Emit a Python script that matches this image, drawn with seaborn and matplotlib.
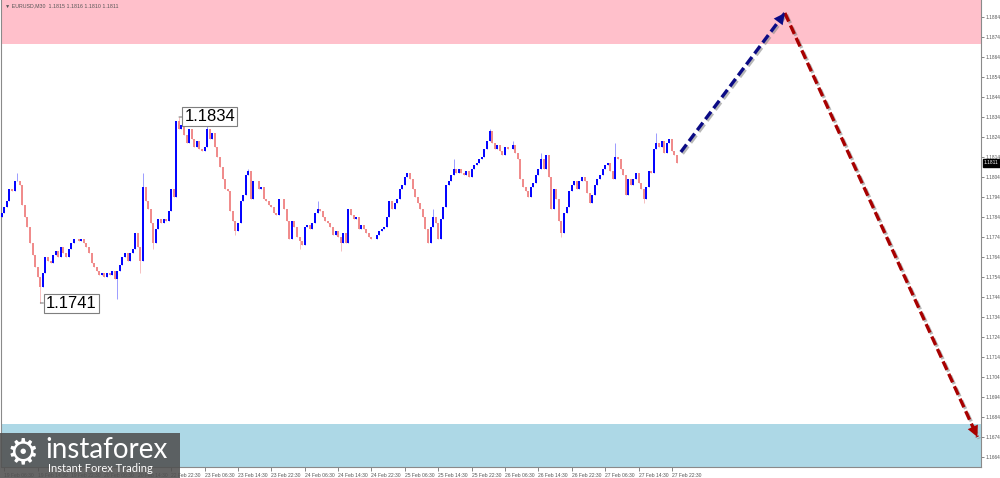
import numpy as np
import pandas as pd
import matplotlib
matplotlib.use("Agg")
import matplotlib.pyplot as plt
import seaborn as sns
from matplotlib import patheffects as pe
from matplotlib.patches import Rectangle
from matplotlib.transforms import blended_transform_factory

# EURUSD M30 closes, in pips (price * 10000)
first_open = 11784
closes_pips = [
    # 19-20 Feb
    11786, 11789, 11792, 11798, 11797, 11802, 11802, 11800, 11790, 11784, 11779, 11771, 11765, 11759, 11754, 11749,
    11756, 11764, 11762, 11761, 11765, 11767, 11764, 11769, 11766, 11764, 11768, 11771, 11773, 11773, 11772, 11773,
    11771, 11769, 11766, 11761, 11759, 11757, 11755, 11756, 11754, 11756, 11755, 11757, 11753, 11757, 11760, 11764,
    11766, 11762, 11766, 11768, 11776, 11769, 11762, 11799, 11792, 11788, 11781, 11771, 11778, 11783, 11781, 11783, 11782,
    # 22-24 Feb
    11787, 11798, 11794, 11832, 11828, 11830, 11825, 11821, 11828, 11823, 11819, 11822, 11818, 11817, 11819, 11828,
    11823, 11826, 11819, 11814, 11809, 11803, 11798, 11797, 11787, 11782, 11777, 11781, 11792, 11795, 11805, 11807,
    11793, 11802, 11802, 11798, 11799, 11793, 11792, 11790, 11789, 11786, 11785, 11793, 11793, 11788, 11782, 11773,
    11782, 11779, 11774, 11772, 11770, 11779, 11780, 11778, 11781, 11786, 11788, 11787, 11784, 11782, 11781, 11779,
    11775, 11777,
    # 24-26 Feb
    11774, 11771, 11776, 11771, 11788, 11785, 11783, 11784, 11778, 11780, 11778, 11776, 11774, 11773, 11773, 11775,
    11777, 11778, 11779, 11784, 11792, 11788, 11791, 11793, 11798, 11800, 11804, 11806, 11803, 11798, 11794, 11791,
    11788, 11784, 11778, 11771, 11779, 11784, 11781, 11773, 11783, 11789, 11800, 11802, 11805, 11808, 11806, 11808,
    11806, 11805, 11807, 11804, 11808, 11810, 11811, 11813, 11814, 11818, 11822, 11827, 11821, 11818, 11820, 11817,
    11815, 11819, 11818,
    # 26-27 Feb
    11818, 11820, 11816, 11813, 11803, 11799, 11797, 11794, 11799, 11801, 11805, 11808, 11813, 11808, 11815, 11804,
    11788, 11798, 11793, 11782, 11776, 11786, 11789, 11797, 11800, 11802, 11798, 11802, 11804, 11802, 11796, 11791,
    11795, 11800, 11803, 11805, 11808, 11810, 11811, 11807, 11803, 11814, 11813, 11808, 11805, 11795, 11803, 11800,
    11803, 11806, 11801, 11798, 11793, 11799, 11807, 11806, 11818, 11821, 11819, 11822, 11816, 11821, 11823, 11817,
    11815, 11811,
]
# longer wicks (bar -> pips)
spike_high = {6: 11806, 55: 11806, 69: 11834, 80: 11832, 96: 11808, 123: 11792, 168: 11788,
              176: 11813, 190: 11828, 199: 11822, 210: 11816, 239: 11821, 255: 11826}
spike_low = {15: 11741, 45: 11743, 54: 11756, 59: 11768, 91: 11775, 116: 11768, 132: 11767,
             218: 11774, 250: 11791}

# forecast path (bar, price)
forecast_bar = [264.5, 305.0, 380.0]
forecast_price = [1.18165, 1.18860, 1.16740]

resistance_zone = (1.18705, 1.1895)
support_zone = (1.1655, 1.16805)

time_labels = ["19 Feb 06:30", "19 Feb 14:30", "19 Feb 22:30", "20 Feb 06:30", "20 Feb 14:30",
               "22 Feb 22:30", "23 Feb 06:30", "23 Feb 14:30", "23 Feb 22:30", "24 Feb 06:30",
               "24 Feb 14:30", "24 Feb 22:30", "25 Feb 06:30", "25 Feb 14:30", "25 Feb 22:30",
               "26 Feb 06:30", "26 Feb 14:30", "26 Feb 22:30", "27 Feb 06:30", "27 Feb 14:30",
               "27 Feb 22:30"]
time_label_bars = list(range(1, 262, 13))

header = "\u25bc EURUSD,M30  1.1815 1.1816 1.1810 1.1811"

# build OHLC table
c = np.array(closes_pips) / 10000
o = np.concatenate([[first_open / 10000], c[:-1]])
df = pd.DataFrame({"bar": np.arange(len(c)), "open": o, "close": c})
df["high"] = df[["open", "close"]].max(axis=1)
df["low"] = df[["open", "close"]].min(axis=1)
for k, v in spike_high.items():
    df.loc[k, "high"] = v / 10000
for k, v in spike_low.items():
    df.loc[k, "low"] = v / 10000
df["bull"] = df["close"] >= df["open"]

sns.set_style("white")
plt.rcParams["font.family"] = ["Liberation Sans", "DejaVu Sans"]

fig = plt.figure(figsize=(10, 4.78), dpi=100)
ax = fig.add_axes([0.001, 11 / 478, 0.980, 467 / 478])

ax.axhspan(*resistance_zone, color="#ffc0cb", lw=0, zorder=0)
ax.axhspan(*support_zone, color="#add8e6", lw=0, zorder=0)

bull = df[df["bull"]]
bear = df[~df["bull"]]
ax.vlines(bull["bar"], bull["low"], bull["high"], color="#8c8cff", lw=0.6, zorder=2)
ax.vlines(bear["bar"], bear["low"], bear["high"], color="#f5b5b5", lw=0.6, zorder=2)
ax.vlines(bull["bar"], bull["open"] - 0.00002, bull["close"] + 0.00002, color="#0000ff", lw=1.4, zorder=3)
ax.vlines(bear["bar"], bear["close"] - 0.00002, bear["open"] + 0.00002, color="#f08a8a", lw=1.4, zorder=3)

# forecast arrows
shadow = [pe.SimpleLineShadow(offset=(1.2, -1.2), shadow_color="#888888", alpha=0.6), pe.Normal()]
seg_colors = ["#0b0b85", "#a80000"]
for i, col in enumerate(seg_colors):
    xs = forecast_bar[i:i + 2]
    ys = forecast_price[i:i + 2]
    sns.lineplot(x=xs, y=ys, ax=ax, color=col, lw=2.4, sort=False, zorder=5)
    ln = ax.lines[-1]
    ln.set_dashes((2.8, 1.3))
    ln.set_path_effects(shadow)
    ax.annotate("", xy=(xs[1], ys[1]),
                xytext=(xs[1] - (xs[1] - xs[0]) * 0.06, ys[1] - (ys[1] - ys[0]) * 0.06),
                arrowprops=dict(arrowstyle="-|>", color=col, mutation_scale=20, lw=0,
                                shrinkA=0, shrinkB=0),
                zorder=6)

# high / low labels
hi_bar = int(df["high"].idxmax())
lo_bar = int(df["low"].idxmin())
box = dict(boxstyle="square,pad=0.12", fc="white", ec="#7f7f7f", lw=0.8)
for bar, price in [(hi_bar, df.loc[hi_bar, "high"]), (lo_bar, df.loc[lo_bar, "low"])]:
    ax.annotate(f"{price:.4f}", xy=(bar, price), xytext=(4, 0), textcoords="offset points",
                ha="left", va="center", fontsize=12, color="black",
                bbox=box, zorder=7,
                arrowprops=dict(arrowstyle="-", color="#555555", lw=0.6, shrinkA=0, shrinkB=0))

ax.set_xlim(-0.3, 381.4)
ax.set_ylim(1.1659, 1.18925)

ax.yaxis.tick_right()
yt = np.arange(11664, 11885, 10) / 10000
ax.set_yticks(yt)
ax.set_yticklabels([f"{v:.4f}" for v in yt])
ax.set_xticks(time_label_bars)
ax.set_xticklabels(time_labels)
ax.tick_params(axis="y", which="both", right=True, left=False, length=2, width=0.5,
               pad=1, labelsize=3.4, colors="#555555")
ax.tick_params(axis="x", which="both", bottom=True, length=3, width=0.5, pad=1,
               labelsize=3.6, colors="#555555")
for lab in ax.get_xticklabels():
    lab.set_ha("left")
for side in ["left", "right", "bottom"]:
    ax.spines[side].set_color("#8a8a8a")
    ax.spines[side].set_linewidth(0.8)
ax.spines["top"].set_visible(False)
ax.grid(False)

# current price tag
trans = blended_transform_factory(ax.transAxes, ax.transData)
ax.text(1.003, c[-1], f"{c[-1]:.4f}", transform=trans, ha="left", va="center", fontsize=3.4,
        color="white", clip_on=False, zorder=8,
        bbox=dict(boxstyle="square,pad=0.3", fc="black", ec="black"))

ax.text(0.004, 0.992, header, transform=ax.transAxes, ha="left", va="top", fontsize=3.8,
        color="#555555")

# watermark
fig.add_artist(Rectangle((0, 0), 0.18, 45 / 478, transform=fig.transFigure,
                         fc="#505050", ec="none", alpha=0.88, zorder=10))
fig.text(0.023, 25 / 478, "\u2699", color="white", fontsize=26, family="DejaVu Sans",
         ha="center", va="center", zorder=11)
fig.text(0.045, 28 / 478, "instaforex", color="white", fontsize=20, family="Lato",
         ha="left", va="center", zorder=11)
fig.text(0.048, 9 / 478, "Instant Forex Trading", color="white", fontsize=8, family="Lato",
         ha="left", va="center", zorder=11)

fig.savefig("out.png", dpi=100)
